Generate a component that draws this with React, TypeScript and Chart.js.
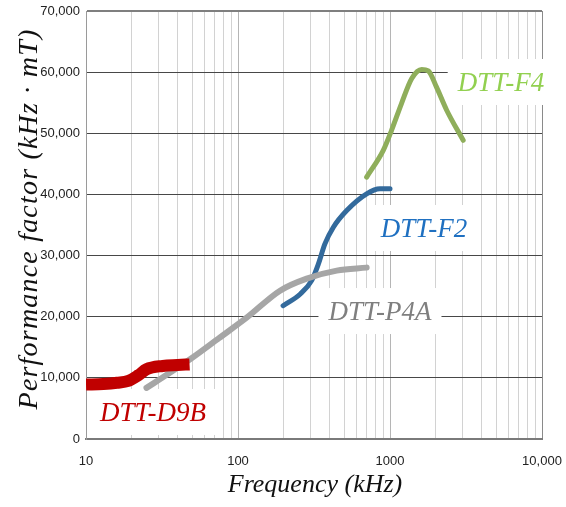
import { useEffect, useRef } from 'react';
import { Chart, registerables } from 'chart.js';

Chart.register(...registerables);

// ---- data ----
const d9bFreq = [10, 13, 16, 19, 22, 25, 32, 40, 48];
const d9bValue = [8900, 9000, 9200, 9500, 10400, 11400, 11950, 12100, 12200];

const p4aFreq = [25, 35, 50, 75, 114, 189, 283, 446, 702];
const p4aValue = [8360, 10700, 13280, 16500, 19840, 24260, 26230, 27540, 28030];

const f2Freq = [198, 257, 305, 338, 373, 424, 519, 702, 859, 1000];
const f2Value = [21800, 23720, 25900, 28630, 31910, 34640, 37370, 40100, 40930, 40930];

const f4Freq = [702, 903, 1024, 1190, 1390, 1616, 1786, 2020, 2360, 3030];
const f4Value = [42830, 47210, 50490, 54860, 58960, 60440, 60210, 57580, 53770, 48850];

const seriesNames = ['DTT-D9B', 'DTT-P4A', 'DTT-F2', 'DTT-F4'];
const labelFreq = [27.6, 859, 1674, 5370];
const labelValue = [4420, 20930, 34510, 58390];

const xGridValues = [
  10, 20, 30, 40, 50, 60, 70, 80, 90,
  100, 200, 300, 400, 500, 600, 700, 800, 900,
  1000, 2000, 3000, 4000, 5000, 6000, 7000, 8000, 9000,
  10000,
];
const xTickValues = [10, 100, 1000, 10000];
const xTickLabels = ['10', '100', '1000', '10,000'];
const yTickValues = [0, 10000, 20000, 30000, 40000, 50000, 60000, 70000];
const yTickLabels = ['0', '10,000', '20,000', '30,000', '40,000', '50,000', '60,000', '70,000'];

const xTitle = 'Frequency (kHz)';
const yTitle = 'Performance factor (kHz \u00b7 mT)';

// ---- styles ----
const lineColors = ['#c00000', '#a6a6a6', '#336a9c', '#8fae5b'];
const lineWidths = [12, 6, 5, 5];
const textColors = ['#c00000', '#7f7f7f', '#1f70c1', '#92d050'];
const serif = '"Liberation Serif", "Times New Roman", serif';
const tickFont = '"Liberation Sans Narrow", "Arial Narrow", "Liberation Sans", Arial, sans-serif';

const toPoints = (xs: number[], ys: number[]) => xs.map((x, i) => ({ x, y: ys[i] }));

const annotations = {
  id: 'annotations',
  beforeDatasetsDraw(chart: any) {
    const { ctx, scales } = chart;
    ctx.save();
    ctx.font = `italic 27px ${serif}`;
    ctx.textAlign = 'center';
    ctx.textBaseline = 'alphabetic';
    seriesNames.forEach((name, i) => {
      const px = scales.x.getPixelForValue(labelFreq[i]);
      const py = scales.y.getPixelForValue(labelValue[i]);
      const w = ctx.measureText(name).width;
      ctx.fillStyle = '#ffffff';
      ctx.fillRect(px - w / 2 - 10, py - 23, w + 20, 46);
      ctx.fillStyle = textColors[i];
      ctx.fillText(name, px, py + 9);
    });
    ctx.restore();
  },
  afterDraw(chart: any) {
    const { ctx, chartArea } = chart;
    ctx.save();
    ctx.fillStyle = '#111111';
    ctx.textAlign = 'center';
    ctx.textBaseline = 'alphabetic';
    ctx.font = `italic 26px ${serif}`;
    ctx.fillText(xTitle, (chartArea.left + chartArea.right) / 2 + 1, 492);
    ctx.translate(37, (chartArea.top + chartArea.bottom) / 2 - 6);
    ctx.rotate(-Math.PI / 2);
    ctx.font = `italic 28px ${serif}`;
    try {
      (ctx as any).letterSpacing = '1.2px';
    } catch (e) {}
    ctx.fillText(yTitle, 0, 0);
    ctx.restore();
  },
};

export default function App() {
  const ref = useRef<HTMLCanvasElement>(null);

  useEffect(() => {
    document.body.style.margin = '0';
    const canvas = ref.current;
    if (!canvas) return;
    const data = [
      toPoints(d9bFreq, d9bValue),
      toPoints(p4aFreq, p4aValue),
      toPoints(f2Freq, f2Value),
      toPoints(f4Freq, f4Value),
    ];
    const chart = new Chart(canvas, {
      type: 'line',
      data: {
        datasets: data.map((pts, i) => ({
          label: seriesNames[i],
          data: pts,
          borderColor: lineColors[i],
          borderWidth: lineWidths[i],
          pointRadius: 0,
          fill: false,
          cubicInterpolationMode: 'monotone' as const,
          borderCapStyle: i === 0 ? ('butt' as const) : ('round' as const),
          borderJoinStyle: 'round' as const,
          order: i,
        })),
      },
      options: {
        animation: false,
        responsive: false,
        devicePixelRatio: 1,
        layout: { padding: { top: 11, right: 24, left: 0, bottom: 0 } },
        plugins: {
          legend: { display: false },
          tooltip: { enabled: false },
        },
        scales: {
          x: {
            type: 'logarithmic',
            min: 10,
            max: 10000,
            afterBuildTicks: (axis: any) => {
              axis.ticks = xGridValues.map((value) => ({ value }));
            },
            afterFit: (axis: any) => {
              axis.height = 68;
              axis.paddingLeft = 0;
              axis.paddingRight = 0;
            },
            ticks: {
              autoSkip: false,
              maxRotation: 0,
              padding: 15,
              color: '#222222',
              font: { family: tickFont, size: 13 },
              callback: (value: any) => {
                const k = xTickValues.indexOf(Number(value));
                return k >= 0 ? xTickLabels[k] : '';
              },
            },
            grid: {
              drawTicks: false,
              lineWidth: 1,
              color: (c: any) => {
                const v = c.tick ? c.tick.value : 0;
                if (v === 10000) return '#8a8a8a';
                if (v === 100 || v === 1000) return '#b5b5b5';
                return '#d2d2d2';
              },
            },
            border: { color: '#7a7a7a', width: 2 },
          },
          y: {
            type: 'linear',
            min: 0,
            max: 70000,
            afterBuildTicks: (axis: any) => {
              axis.ticks = yTickValues.map((value) => ({ value }));
            },
            afterFit: (axis: any) => {
              axis.width = 86;
              axis.paddingTop = 0;
              axis.paddingBottom = 0;
            },
            ticks: {
              padding: 6,
              color: '#222222',
              font: { family: tickFont, size: 13 },
              callback: (value: any) => {
                const k = yTickValues.indexOf(Number(value));
                return k >= 0 ? yTickLabels[k] : '';
              },
            },
            grid: {
              drawTicks: false,
              lineWidth: (c: any) => (c.tick && c.tick.value === 70000 ? 2 : 1),
              color: (c: any) => (c.tick && c.tick.value === 70000 ? '#7f7f7f' : '#474747'),
            },
            border: { color: '#9a9a9a', width: 1 },
          },
        },
      },
      plugins: [annotations],
    } as any);
    return () => chart.destroy();
  }, []);

  return (
    <div style={{ width: 566, height: 507 }}>
      <canvas ref={ref} width={566} height={507} style={{ display: 'block' }} />
    </div>
  );
}
